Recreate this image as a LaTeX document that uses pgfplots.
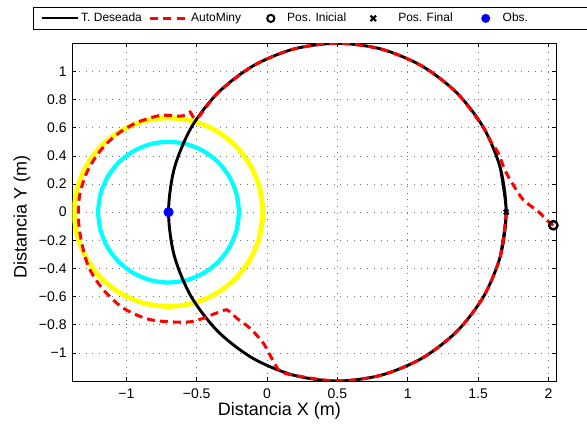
\documentclass[border=0pt]{standalone}
\usepackage{pgfplots}
\pgfplotsset{compat=1.18}
\usepackage{fontspec}
\setmainfont{Liberation Sans}
\definecolor{mred}{rgb}{1,0,0}
\definecolor{mblue}{rgb}{0,0,1}
\definecolor{mcyan}{rgb}{0,1,1}
\definecolor{myellow}{rgb}{1,1,0}
\pgfplotsset{
  legT/.style={legend image code/.code={\path[draw=none,fill=none] (0pt,0pt) -- (45pt,0pt); \draw[black, solid, line width=2.2pt] (8.7pt,0pt) -- (44.7pt,0pt);}},
  legA/.style={legend image code/.code={\path[draw=none,fill=none] (0pt,0pt) -- (45pt,0pt); \draw[mred, line width=2.4pt, dash pattern=on 8pt off 5.5pt] (6pt,0pt) -- (44pt,0pt);}},
  legI/.style={legend image code/.code={\path[draw=none,fill=none] (0pt,0pt) -- (42pt,0pt); \draw[black, solid, line width=2pt, fill=none] (27.7pt,0pt) circle (3.6pt);}},
  legF/.style={legend image code/.code={\path[draw=none,fill=none] (0pt,0pt) -- (48pt,0pt); \draw[black, solid, line width=2pt] (22.2pt,-2.8pt) -- (27.8pt,2.8pt) (22.2pt,2.8pt) -- (27.8pt,-2.8pt);}},
  legO/.style={legend image code/.code={\path[draw=none,fill=none] (0pt,0pt) -- (46pt,0pt); \path[draw=none, fill=mblue] (31pt,0pt) circle (4.5pt);}},
}
\begin{document}
\begin{tikzpicture}
\begin{axis}[
  at={(0pt,0pt)}, anchor=south west,
  scale only axis, width=483.7pt, height=337.7pt,
  xmin=-1.384, xmax=2.054, ymin=-1.2, ymax=1.2,
  xtick={-1,-0.5,0,0.5,1,1.5,2},
  xticklabels={−1,−0.5,0,0.5,1,1.5,2},
  ytick={-1,-0.8,-0.6,-0.4,-0.2,0,0.2,0.4,0.6,0.8,1},
  yticklabels={−1,−0.8,−0.6,−0.4,−0.2,0,0.2,0.4,0.6,0.8,1},
  tick align=inside,
  major tick length=4pt,
  every tick/.style={black, line width=0.6pt},
  axis line style={line width=0.8pt},
  grid=major,
  major grid style={black!55, line width=0.6pt, dash pattern=on 0.8pt off 5.9pt},
  tick label style={font=\fontsize{14}{16}\selectfont},
  yticklabel style={inner xsep=0pt, xshift=-5.5pt},
  xticklabel style={inner ysep=0pt, yshift=-8pt},
  xlabel={Distancia X (m)}, ylabel={Distancia Y (m)},
  label style={font=\fontsize{18}{21}\selectfont},
  xlabel style={at={(axis description cs:0.428,-0.0888)}, anchor=center},
  ylabel style={at={(axis description cs:-0.104,0.486)}, anchor=center},
  legend columns=-1,
  legend cell align=left,
  legend style={at={(axis description cs:-0.08125,1.1075)}, anchor=north west,
    draw=black, line width=0.8pt, fill=white, inner xsep=0pt, inner ysep=5pt,
    column sep=0pt, font=\fontsize{12}{14}\selectfont,
    nodes={inner xsep=2pt, inner ysep=0pt, text height=9pt, text depth=3pt}},
]
% obstacle safety circles
\addplot[forget plot, myellow, line width=4.8pt, smooth] coordinates {
(-0.0528,-0.1734) (-0.03,0) (-0.0528,0.1734) (-0.1198,0.335) (-0.2262,0.4738) (-0.365,0.5802)
(-0.5266,0.6472) (-0.7,0.67) (-0.8734,0.6472) (-1.035,0.5802) (-1.1738,0.4738)
(-1.2802,0.335) (-1.3472,0.1734) (-1.37,0) (-1.3472,-0.1734) (-1.2802,-0.335)
(-1.1738,-0.4738) (-1.035,-0.5802) (-0.8734,-0.6472) (-0.7,-0.67) (-0.5266,-0.6472)
(-0.365,-0.5802) (-0.2262,-0.4738) (-0.1198,-0.335) (-0.0528,-0.1734) (-0.03,0) (-0.0528,0.1734)};
\addplot[forget plot, mcyan, line width=4.2pt, smooth] coordinates {
(-0.217,-0.1294) (-0.2,0) (-0.217,0.1294) (-0.267,0.25) (-0.3464,0.3536) (-0.45,0.433)
(-0.5706,0.483) (-0.7,0.5) (-0.8294,0.483) (-0.95,0.433) (-1.0536,0.3536)
(-1.133,0.25) (-1.183,0.1294) (-1.2,0) (-1.183,-0.1294) (-1.133,-0.25)
(-1.0536,-0.3536) (-0.95,-0.433) (-0.8294,-0.483) (-0.7,-0.5) (-0.5706,-0.483)
(-0.45,-0.433) (-0.3464,-0.3536) (-0.267,-0.25) (-0.217,-0.1294) (-0.2,0) (-0.217,0.1294)};
% desired trajectory
\addplot[black, line width=2.9pt, smooth, legT]
coordinates {
(1.6591,-0.3106) (1.7,0) (1.6591,0.3106) (1.5392,0.6) (1.3485,0.8485) (1.1,1.0392)
(0.8106,1.1591) (0.5,1.2) (0.1894,1.1591) (-0.1,1.0392) (-0.3485,0.8485)
(-0.5392,0.6) (-0.6591,0.3106) (-0.7,0) (-0.6591,-0.3106) (-0.5392,-0.6)
(-0.3485,-0.8485) (-0.1,-1.0392) (0.1894,-1.1591) (0.5,-1.2) (0.8106,-1.1591)
(1.1,-1.0392) (1.3485,-0.8485) (1.5392,-0.6) (1.6591,-0.3106) (1.7,0) (1.6591,0.3106)};
\addlegendentry{T. Deseada}
% AutoMiny
\addplot[mred, line width=3pt, dash pattern=on 8pt off 5pt, smooth, tension=0.5, legA]
coordinates {
(2.035,-0.093) (2.0,-0.067) (1.928,0.004) (1.822,0.087) (1.75,0.194) (1.69,0.30)
(1.644,0.419) (1.5876,0.5071) (1.5392,0.6) (1.3485,0.8485) (1.1,1.0392) (0.8106,1.1591)
(0.5,1.2) (0.1894,1.1591) (-0.1,1.0392) (-0.3485,0.8485) (-0.498,0.666) (-0.547,0.712)
(-0.583,0.692) (-0.617,0.682) (-0.760,0.687) (-0.931,0.634) (-1.080,0.542) (-1.199,0.419)
(-1.285,0.273) (-1.333,0.112) (-1.340,-0.056) (-1.316,-0.224) (-1.265,-0.396)
(-1.163,-0.552) (-1.019,-0.684) (-0.835,-0.763) (-0.632,-0.782) (-0.53,-0.777)
(-0.453,-0.754) (-0.38,-0.725) (-0.32,-0.703) (-0.287,-0.694) (-0.25,-0.72)
(-0.215,-0.754) (-0.121,-0.825) (-0.026,-0.931) (0.033,-1.038) (0.0896,-1.1276)
(0.1894,-1.1591) (0.5,-1.2) (0.8106,-1.1591) (1.1,-1.0392) (1.3485,-0.8485)
(1.5392,-0.6) (1.6591,-0.3106) (1.7,0)};
\addlegendentry{AutoMiny}
\addplot[only marks, mark=o, mark size=4.2pt, line width=2.4pt, black, legI]
coordinates {(2.035,-0.093)};
\addlegendentry{Pos. Inicial}
\addplot[only marks, mark=x, mark size=3.3pt, line width=2.2pt, black, legF]
coordinates {(1.7,0)};
\addlegendentry{Pos. Final}
\addplot[only marks, mark=*, mark size=4.8pt, mblue, mark options={fill=mblue, draw=mblue}, legO]
coordinates {(-0.7,0)};
\addlegendentry{Obs.\hspace*{100pt}}
\end{axis}
\pgfresetboundingbox
\useasboundingbox (-72.3pt,-49pt) rectangle (514.7pt,381pt);
\end{tikzpicture}
\end{document}
